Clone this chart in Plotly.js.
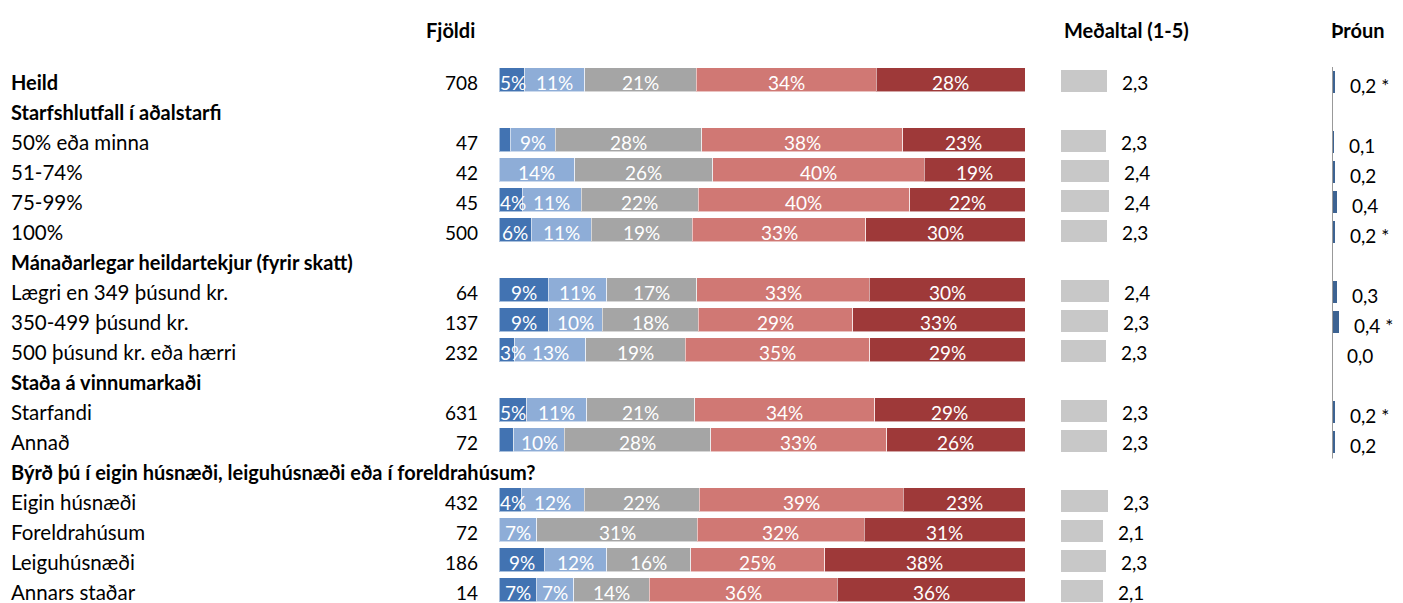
<!DOCTYPE html>
<html>
<head>
<meta charset="utf-8">
<script src="https://cdn.plot.ly/plotly-3.0.1.min.js"></script>
<style>html,body{margin:0;padding:0;background:#fff;}#chart{width:1403px;height:603px;}</style>
</head>
<body>
<div id="chart"></div>
<script>
// ---------- DATA ----------
const categories = [
  'Heild',
  'Starfshlutfall í aðalstarfi',
  '50% eða minna',
  '51-74%',
  '75-99%',
  '100%',
  'Mánaðarlegar heildartekjur (fyrir skatt)',
  'Lægri en 349 þúsund kr.',
  '350-499 þúsund kr.',
  '500 þúsund kr. eða hærri',
  'Staða á vinnumarkaði',
  'Starfandi',
  'Annað',
  'Býrð þú í eigin húsnæði, leiguhúsnæði eða í foreldrahúsum?',
  'Eigin húsnæði',
  'Foreldrahúsum',
  'Leiguhúsnæði',
  'Annars staðar'
];
const boldRow = [1,1,0,0,0,0,1,0,0,0,1,0,0,1,0,0,0,0];
const counts = [708,null,47,42,45,500,null,64,137,232,null,631,72,null,432,72,186,14];

const s1 = [4.9,null,2.1,0.0,4.4,6.1,null,9.4,9.4,3.0,null,5.3,2.8,null,4.2,0.0,8.6,7.1];
const s2 = [11.4,null,8.6,14.4,11.2,11.4,null,11.1,10.2,13.4,null,11.4,9.6,null,12.0,7.2,11.8,7.1];
const s3 = [21.1,null,27.8,26.2,22.2,19.2,null,17.1,18.2,18.9,null,20.5,27.8,null,21.9,30.6,16.0,14.3];
const s4 = [34.2,null,38.2,40.1,40.1,32.9,null,32.7,29.3,35.0,null,34.2,33.4,null,38.8,31.8,25.4,35.7];
const s5 = [28.2,null,23.2,19.1,21.9,30.2,null,29.6,32.7,29.4,null,28.5,26.3,null,23.2,30.6,38.0,35.7];

const means = [2.29,null,2.26,2.38,2.40,2.29,null,2.40,2.34,2.26,null,2.29,2.30,null,2.34,2.10,2.26,2.10];
const trend = [0.2,null,0.1,0.2,0.36,0.2,null,0.3,0.44,0.02,null,0.2,0.18,null,null,null,null,null];
const trendSig = [1,0,0,0,0,1,0,0,1,0,0,1,0,0,0,0,0,0];

const headers = ['Fjöldi','Meðaltal (1-5)','Þróun'];
const segColors = ['#4273b2','#8eadd7','#a5a5a5','#d07874','#9e3939'];

// ---------- BUILD ----------
const W = 1403, H = 603;
const FONT = 'Lato, "Open Sans", sans-serif';
const idx = categories.map((_, i) => i);
const fmt = v => v.toFixed(1).replace('.', ',');
const series = [s1, s2, s3, s4, s5];
const totals = idx.map(i => series.reduce((a, s) => a + (s[i] || 0), 0));
const norm = series.map(s => s.map((v, i) => v === null ? null : v * 100 / totals[i]));

const traces = [];
norm.forEach((s, k) => {
  traces.push({
    type: 'bar', orientation: 'h', xaxis: 'x', yaxis: 'y',
    y: idx, x: s, width: 0.8, offset: -0.467,
    marker: {color: segColors[k], line: {color: 'rgba(255,255,255,0.55)', width: 1}},
    hoverinfo: 'skip'
  });
});
traces.push({
  type: 'bar', orientation: 'h', xaxis: 'x2', yaxis: 'y',
  y: idx, x: means, width: 0.73, offset: -0.4,
  marker: {color: '#c8c8c8'}, hoverinfo: 'skip'
});
traces.push({
  type: 'bar', orientation: 'h', xaxis: 'x3', yaxis: 'y',
  y: idx, x: trend, width: 0.73,
  marker: {color: '#3d6392'}, hoverinfo: 'skip'
});

const annotations = [];
// segment labels, drawn above all segments
idx.forEach(i => {
  let cum = 0;
  series.forEach((s, k) => {
    const v = s[i];
    if (v === null) return;
    const w = norm[k][i];
    let mid = cum + w / 2;
    if (k === 0) mid = Math.max(mid, 2.6);
    if (v >= 3) {
      annotations.push({
        xref: 'x', yref: 'y', x: mid, y: i, xanchor: 'center', yanchor: 'middle', borderpad: 0,
        text: Math.round(v) + '%', showarrow: false,
        font: {family: FONT, size: 19, color: '#ffffff'}
      });
    }
    cum += w;
  });
});
categories.forEach((c, i) => {
  annotations.push({
    xref: 'paper', yref: 'y', x: 10 / W, y: i, xanchor: 'left', yanchor: 'middle', borderpad: 0,
    text: boldRow[i] ? '<b>' + c + '</b>' : c, showarrow: false,
    font: {family: FONT, size: boldRow[i] ? 20 : 20.5, color: '#000'}
  });
  if (counts[i] !== null) {
    annotations.push({
      xref: 'paper', yref: 'y', x: 479 / W, y: i, xanchor: 'right', yanchor: 'middle', borderpad: 0,
      text: String(counts[i]), showarrow: false,
      font: {family: FONT, size: 19, color: '#000'}
    });
  }
  if (means[i] !== null) {
    annotations.push({
      xref: 'x2', yref: 'y', x: means[i], y: i, xanchor: 'left', yanchor: 'middle', xshift: 14, borderpad: 0,
      text: fmt(means[i]), showarrow: false,
      font: {family: FONT, size: 19, color: '#000'}
    });
  }
  if (trend[i] !== null) {
    annotations.push({
      xref: 'x3', yref: 'y', x: trend[i], y: i, xanchor: 'left', yanchor: 'middle', xshift: 14,
      yshift: -3, borderpad: 0,
      text: fmt(trend[i]) + (trendSig[i] ? ' *' : ''), showarrow: false,
      font: {family: FONT, size: 19, color: '#000'}
    });
  }
});
const headerX = [477 / W, 1062 / W, 1387 / W];
const headerAnchor = ['right', 'left', 'right'];
headers.forEach((h, k) => {
  annotations.push({
    xref: 'paper', yref: 'paper', x: headerX[k], y: 1 - 30 / H, xanchor: headerAnchor[k], yanchor: 'middle',
    text: '<b>' + h + '</b>', showarrow: false,
    font: {family: FONT, size: 20, color: '#000'}
  });
});

const layout = {
  width: W, height: H,
  margin: {l: 0, r: 0, t: 0, b: 0, pad: 0},
  paper_bgcolor: '#fff', plot_bgcolor: 'rgba(0,0,0,0)',
  barmode: 'stack', bargap: 0,
  showlegend: false,
  xaxis: {domain: [499 / W, 1025 / W], range: [0, 100], visible: false},
  xaxis2: {domain: [1061 / W, 1261 / W], range: [0, 10], visible: false, anchor: 'y'},
  xaxis3: {domain: [1332 / W, 1403 / W], range: [0, 71 / 15], visible: false, anchor: 'y'},
  yaxis: {range: [17 + 11 / 30, -2 - 22 / 30], visible: false},
  shapes: [{
    type: 'line', xref: 'x3', yref: 'y', x0: 0, x1: 0, y0: -0.5, y1: 12.55,
    line: {color: '#999999', width: 2}, layer: 'above'
  }],
  annotations: annotations
};

Plotly.newPlot('chart', traces, layout, {displayModeBar: false, staticPlot: true});
</script>
</body>
</html>
